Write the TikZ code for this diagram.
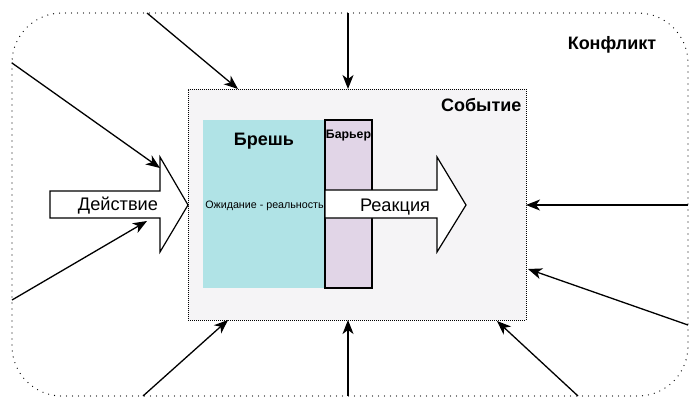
\documentclass[tikz,border=0pt]{standalone}
\usepackage{fontspec}
\setmainfont{Liberation Sans}
\usetikzlibrary{arrows.meta,calc}
\definecolor{breachc}{HTML}{B0E3E6}
\definecolor{barc}{HTML}{E1D5E7}
\definecolor{evc}{HTML}{F5F4F6}
\begin{document}
\begin{tikzpicture}[x=1pt,y=-1pt,
  conn/.style={line width=1.3pt,-{Stealth[length=14pt,width=11pt,inset=4pt]}},
  bigarrow/.style={draw=black,fill=white,line width=1.2pt,line join=miter},
  box/.style={inner sep=0pt,outer sep=0pt},
  boldtxt/.style={font=\bfseries\fontsize{18}{21}\selectfont},
  plaintxt/.style={font=\fontsize{18.2}{21}\selectfont}]
\useasboundingbox (0,0) rectangle (700,408);
% outer conflict border
\draw[line width=1.3pt,line cap=round,dash pattern=on 0pt off 6pt,rounded corners=50pt]
  (12,13) rectangle (688,396);
% event box
\node[box,draw=black,fill=evc,line width=0.8pt,dash pattern=on 1pt off 1pt,
  minimum width=338pt,minimum height=231pt] (event) at (357,204.5) {};
\node[box,fill=breachc,minimum width=122pt,minimum height=168pt] (breach) at (264,204) {};
\node[box,draw=black,fill=barc,line width=1.2pt,minimum width=47pt,minimum height=168pt] (barrier) at (348.5,204) {};
% reaction arrow
\coordinate (r1) at (325,190); \coordinate (r2) at (437,190); \coordinate (r3) at (437,157);
\coordinate (r4) at (466,205); \coordinate (r5) at (437,252); \coordinate (r6) at (437,218);
\coordinate (r7) at (325,218);
\draw[bigarrow] (r1) -- (r2) -- (r3) -- (r4) -- (r5) -- (r6) -- (r7) -- cycle;
% action arrow
\coordinate (a1) at (50,191); \coordinate (a2) at (160,191); \coordinate (a3) at (160,157);
\coordinate (a4) at (188,205); \coordinate (a5) at (160,252); \coordinate (a6) at (160,218);
\coordinate (a7) at (50,218);
\draw[bigarrow] (a1) -- (a2) -- (a3) -- (a4) -- (a5) -- (a6) -- (a7) -- cycle;
% texts
\node[boldtxt] (konf) at (612,45) {Конфликт};
\node[boldtxt,anchor=east] (sob) at (525,105) {Событие};
\node[boldtxt] (bresh) at (264,141) {Брешь};
\node[font=\bfseries\fontsize{12.3}{14}\selectfont] (bar) at (348.5,136) {Барьер};
\node[font=\fontsize{10.7}{12}\selectfont] (ozh) at (264.5,206) {Ожидание - реальность};
\node[plaintxt] (deist) at (118,206) {Действие};
\node[plaintxt] (reak) at (395,207) {Реакция};
% connector start points on the outer border
\coordinate (s1) at (147,13);
\coordinate (s2) at (348,13);
\coordinate (s3) at (12,63);
\coordinate (s4) at (12,300);
\coordinate (s5) at (143,396);
\coordinate (s6) at (348,396);
\coordinate (s7) at (578,396);
\coordinate (s8) at (688,325);
\coordinate (s9) at (688,205);
% connectors
\draw[conn] (s1) -- ($(event.north west)+(50,0)$);
\draw[conn] (s2) -- (s2 |- event.north);
\draw[conn] (s3) -- ($(a3)+(0,11)$);
\draw[conn] (s4) -- ($(a6)+(-13,3)$);
\draw[conn] (s5) -- ($(event.south west)+(40,0)$);
\draw[conn] (s6) -- (s6 |- event.south);
\draw[conn] (s7) -- ($(event.south west)+(309,1)$);
\draw[conn] (s8) -- ($(event.north east)+(2,180)$);
\draw[conn] (s9) -- (s9 -| event.east);
\end{tikzpicture}
\end{document}
